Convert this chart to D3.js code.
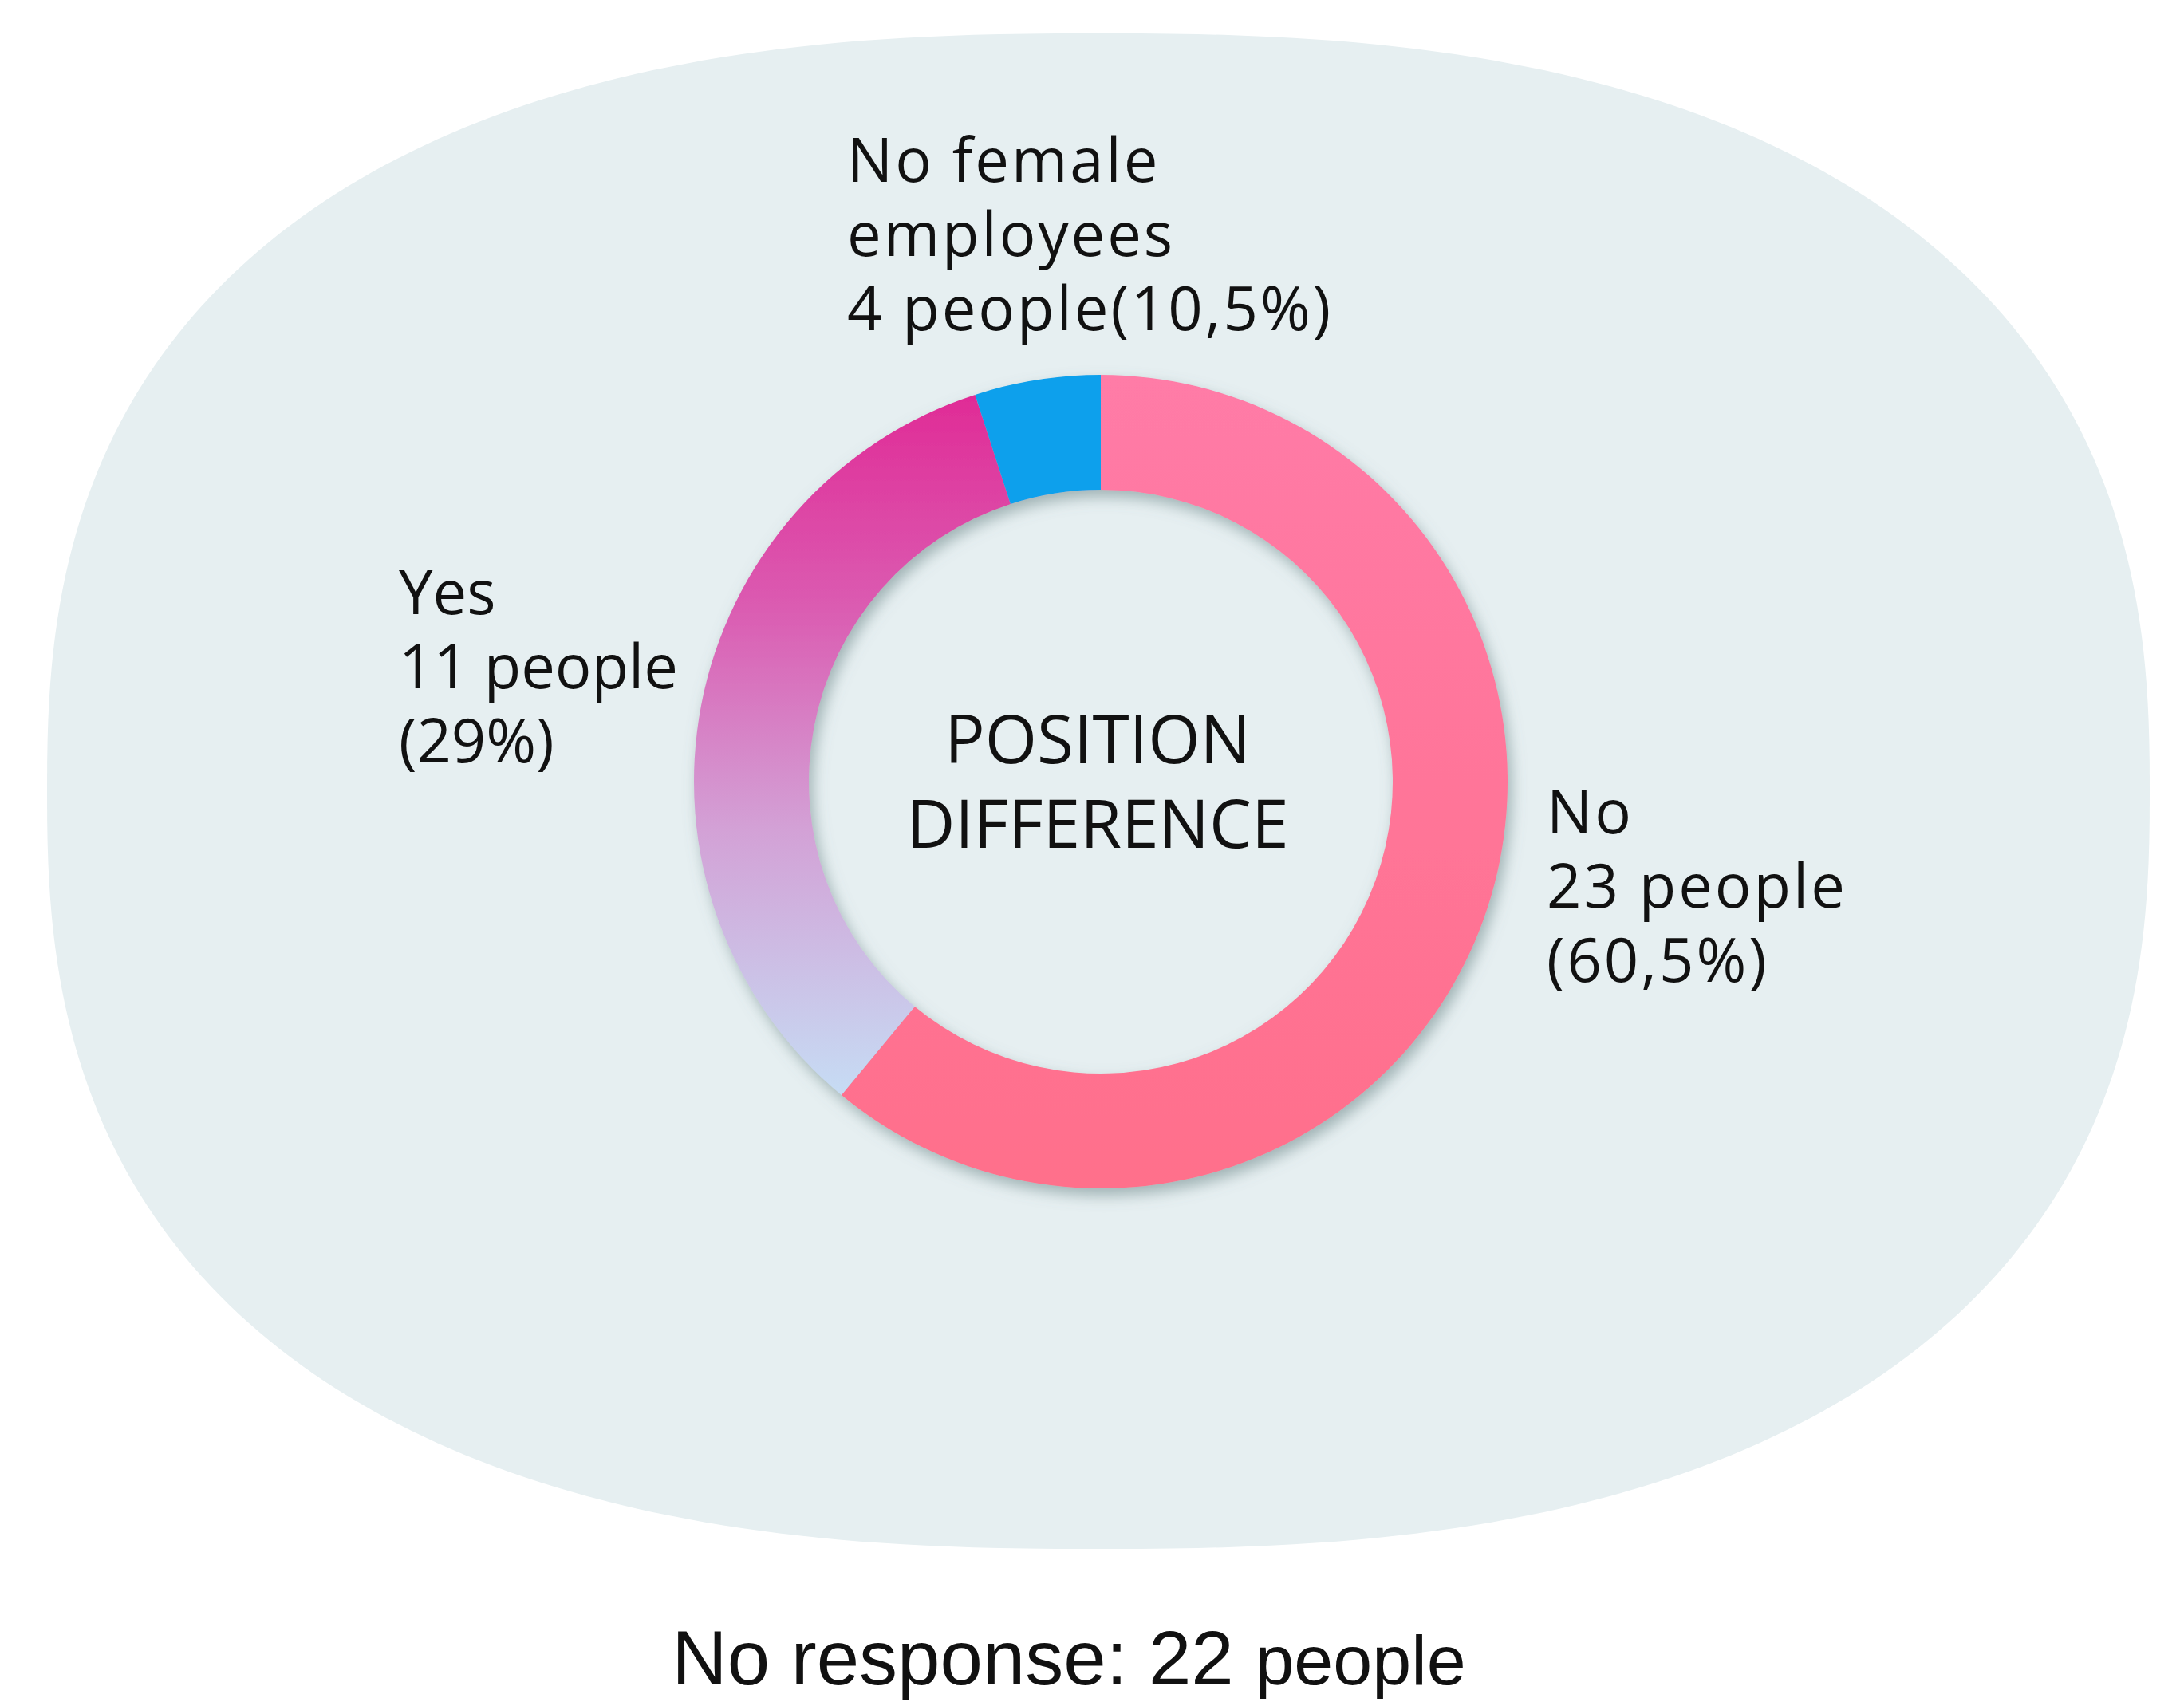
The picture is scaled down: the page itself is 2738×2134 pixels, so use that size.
<!DOCTYPE html>
<html>
<head>
<meta charset="utf-8">
<script src="https://cdn.jsdelivr.net/npm/d3@7"></script>
<style>
  body { margin: 0; background: #fff; }
  svg { display: block; }
  text { font-family: "Open Sans", sans-serif; fill: #111; }
</style>
</head>
<body>
<svg id="chart" width="2738" height="2134"></svg>
<script>
// values
var categories = ["No", "Yes", "No female employees"];
var people = [23, 11, 4];
var percentLabels = ["60,5%", "29%", "10,5%"];
// ring sizes as actually drawn (measured angles, in %)
var arcShares = [61, 34, 5];
var centerTitle = ["POSITION", "DIFFERENCE"];
var noResponse = 22;

var W = 2738, H = 2134;
var cx = 1380, cy = 980, rOuter = 510, rInner = 366;

var svg = d3.select("#chart");
var defs = svg.append("defs");

// gradients for the two big segments
var gNo = defs.append("linearGradient").attr("id", "gradNo")
  .attr("x1", 0).attr("y1", 0).attr("x2", 0).attr("y2", 1);
gNo.append("stop").attr("offset", 0).attr("stop-color", "#ff7ba7");
gNo.append("stop").attr("offset", 1).attr("stop-color", "#ff6f8b");

var gYes = defs.append("linearGradient").attr("id", "gradYes")
  .attr("x1", 0).attr("y1", 0).attr("x2", 0).attr("y2", 1);
[[0, "#e02b96"], [0.3, "#db5bb1"], [0.62, "#d3a1d6"], [1, "#c6dcf4"]].forEach(function(s) {
  gYes.append("stop").attr("offset", s[0]).attr("stop-color", s[1]);
});

var fills = ["url(#gradNo)", "url(#gradYes)", "#0aa0ec"];

var shadow = defs.append("filter").attr("id", "ringShadow")
  .attr("x", "-20%").attr("y", "-20%").attr("width", "140%").attr("height", "140%");
shadow.append("feDropShadow")
  .attr("dx", 5).attr("dy", 9).attr("stdDeviation", 9)
  .attr("flood-color", "#678184").attr("flood-opacity", 0.55);

// rounded backdrop (superellipse)
var bgCx = 1377, bgCy = 992, bgA = 1318, bgB = 950, bgN = 2.5;
var bgPts = d3.range(0, 360, 1).map(function(deg) {
  var t = deg * Math.PI / 180, c = Math.cos(t), s = Math.sin(t);
  return [bgCx + bgA * Math.sign(c) * Math.pow(Math.abs(c), 2 / bgN),
          bgCy + bgB * Math.sign(s) * Math.pow(Math.abs(s), 2 / bgN)];
});
svg.append("path")
  .attr("d", d3.line().curve(d3.curveLinearClosed)(bgPts))
  .attr("fill", "#e6eff1");

// donut
var data = categories.map(function(c, i) {
  return { name: c, people: people[i], pct: percentLabels[i], share: arcShares[i], fill: fills[i] };
});

var pie = d3.pie().sort(null).value(function(d) { return d.share; });
var arc = d3.arc().innerRadius(rInner).outerRadius(rOuter);

svg.append("g")
  .attr("transform", "translate(" + cx + "," + cy + ")")
  .attr("filter", "url(#ringShadow)")
  .selectAll("path")
  .data(pie(data))
  .enter()
  .append("path")
  .attr("d", arc)
  .attr("fill", function(d) { return d.data.fill; });

// center title
svg.append("g").selectAll("text")
  .data(centerTitle)
  .enter()
  .append("text")
  .attr("x", cx - 4)
  .attr("y", function(d, i) { return cy - 23 + i * 106; })
  .attr("text-anchor", "middle")
  .attr("font-size", 84)
  .text(function(d) { return d; });

// segment labels
var lineH = 93;
var labelLines = [
  [data[0].name, data[0].people + " people", "(" + data[0].pct + ")"],
  [data[1].name, data[1].people + " people", "(" + data[1].pct + ")"],
  ["No female", "employees", data[2].people + " people(" + data[2].pct + ")"]
];
var labelPos = [
  [cx + rOuter + 49, cy + 65],
  [cx - 880, cy - 210],
  [cx - 318, cy - 752]
];

labelLines.forEach(function(lines, i) {
  var t = svg.append("text")
    .attr("x", labelPos[i][0])
    .attr("y", labelPos[i][1])
    .attr("font-size", 76)
    .attr("letter-spacing", i === 1 ? 0 : 3);
  t.selectAll("tspan")
    .data(lines)
    .enter()
    .append("tspan")
    .attr("x", labelPos[i][0])
    .attr("dy", function(d, j) { return j === 0 ? 0 : lineH; })
    .text(function(d) { return d; });
});

// footer
var foot = svg.append("text")
  .attr("x", W / 2 - 29)
  .attr("y", 2112)
  .attr("text-anchor", "middle")
  .style("font-family", "'Liberation Sans', Arial, sans-serif")
  .attr("font-size", 96);
foot.append("tspan").text("No response: " + noResponse + " ");
foot.append("tspan").attr("font-size", 88).text("people");
</script>
</body>
</html>
